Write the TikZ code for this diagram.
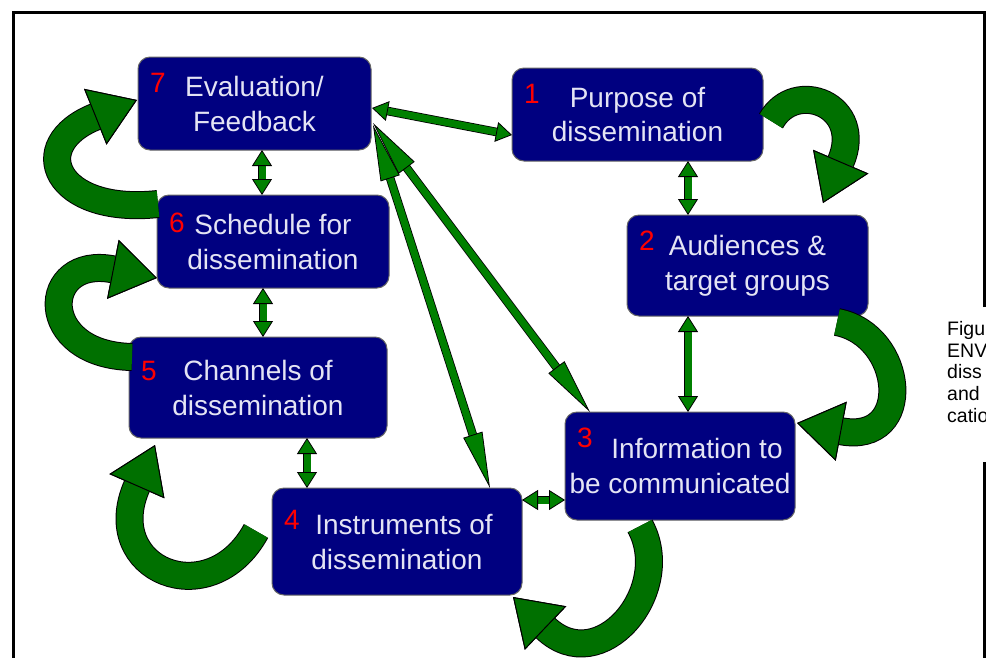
\documentclass[tikz,border=0pt]{standalone}
\usepackage{fontspec}
\setmainfont{Liberation Sans}
\usetikzlibrary{positioning,arrows.meta}

\definecolor{boxnavy}{HTML}{000080}
\definecolor{boxtext}{HTML}{E4E4F4}
\definecolor{linkgreen}{HTML}{008000}
\definecolor{turngreen}{HTML}{007000}

\tikzset{
    ltip/.tip={Triangle[width=20pt,length=16pt,line width=0.8pt,color=black,fill=linkgreen]},
    lltip/.tip={Triangle[width=20pt,length=56pt,line width=0.8pt,color=black,fill=linkgreen]},
    ttip/.tip={Triangle[width=60pt,length=45pt,line width=1pt,color=black,fill=turngreen]},
    stage/.style={draw=black!60, line width=1pt, fill=boxnavy, rounded corners=12pt, text=boxtext, align=center, outer sep=0pt, font=\fontsize{28}{35}\selectfont},
    num/.style={anchor=north west, xshift=12pt, yshift=-16pt, inner sep=0pt, text=red, font=\fontsize{28}{35}\selectfont},
    link/.style={draw=linkgreen, line width=7pt, arrows={ltip-ltip}, preaction={draw=black, line width=8.6pt, arrows=-, shorten <=12pt, shorten >=12pt}},
    long link/.style={draw=linkgreen, line width=7pt, arrows={lltip-lltip}, preaction={draw=black, line width=8.6pt, arrows=-, shorten <=48pt, shorten >=48pt}},
    turn/.style={draw=turngreen, line width=26pt, arrows={-ttip}, preaction={draw=black, line width=28pt, arrows={-ttip}}},
    frame/.style={draw=black, line width=3pt}
}

\begin{document}
\begin{tikzpicture}[x=1pt, y=1pt]
    \useasboundingbox (0,0) rectangle (986,-657);
    \draw[frame] (984,-307) -- (984,-12) -- (13.5,-12) -- (13.5,-660);
    \draw[frame] (984,-462) -- (984,-660);

    \node[stage, minimum width=233pt, minimum height=93pt, label={[num]north west:7}] (EV) at (254.5,-103.5) {Evaluation/\\Feedback};
    \node[stage, minimum width=251pt, minimum height=93pt, below right=11pt and 141pt of EV.north east, label={[num]north west:1}] (PU) {Purpose of\\dissemination};
    \node[stage, minimum width=241pt, minimum height=101pt, below right=54pt and 115pt of PU.south west, label={[num]north west:2}] (AU) {Audiences \&\\target groups};
    \node[stage, minimum width=232pt, minimum height=93pt, below right=45pt and 19pt of EV.south west, label={[num, yshift=-2pt]north west:6}] (SC) {Schedule for\\dissemination};
    \node[stage, minimum width=258pt, minimum height=101pt, below right=49pt and -28pt of SC.south west, label={[num, yshift=-8pt]north west:5}] (CH) {Channels of\\dissemination};
    \node[stage, minimum width=230pt, minimum height=108pt, below right=96pt and -62pt of AU.south west, label={[num]north west:3}] (INF) {\hspace*{34pt}Information to\\be communicated};
    \node[stage, minimum width=250pt, minimum height=107pt, below right=50pt and 143pt of CH.south west, label={[num, yshift=-6pt]north west:4}] (INS) {\hspace*{14pt}Instruments of\\dissemination};

    \node[anchor=north west, inner sep=0pt, align=left, font=\fontsize{19.5}{21.7}\selectfont] (CAP) at (947,-321) {Figur\\ENV\\diss\\and\\catio};

    \draw[link] ([shift={(1,-4.5)}]EV.east) -- ([yshift=-20.5pt]PU.west);
    \draw[link] ([xshift=7.5pt]EV.south) -- ([xshift=7.5pt]EV.south |- SC.north);
    \draw[link] ([xshift=-10pt]SC.south) -- ([xshift=-10pt]SC.south |- CH.north);
    \draw[link] ([xshift=49pt]CH.south) -- ([xshift=49pt]CH.south |- INS.north);
    \draw[link] ([xshift=50.5pt]PU.south) -- ([xshift=50.5pt]PU.south |- AU.north);
    \draw[link] ([xshift=-59.5pt]AU.south) -- ([xshift=-59.5pt]AU.south |- INF.north);
    \draw[link] ([yshift=41.5pt]INS.east) -- ([yshift=41.5pt]INS.east -| INF.west);
    \draw[long link] ([shift={(2,-19.5)}]EV.east) -- ([xshift=25pt]INF.north west);
    \draw[long link] ([shift={(2,-21.5)}]EV.east) -- ([xshift=-32pt]INS.north east);

    \draw[turn] ([shift={(8,-6.5)}]PU.east) .. controls +(24,43) and +(42,98) .. ([shift={(75.5,12)}]AU.north);
    \draw[turn] ([shift={(-31,-6)}]AU.south east) .. controls +(68,-13) and +(118,-22) .. ([shift={(2,-11)}]INF.north east);
    \draw[turn] ([shift={(75,-6)}]INF.south west) .. controls +(35,-64) and +(87,-83) .. ([shift={(-9,-2)}]INS.south east);
    \draw[turn] ([shift={(-16,10.5)}]INS.west) .. controls +(-46,-84) and +(-55,-125) .. ([shift={(26,-7)}]CH.south west);
    \draw[turn] ([shift={(3,-20)}]CH.north west) .. controls +(-97,2) and +(-117,23) .. ([shift={(0,10)}]SC.south west);
    \draw[turn] ([shift={(1,-9)}]SC.north west) .. controls +(-103,-11) and +(-112,-45) .. ([shift={(-1,3.5)}]EV.west);
\end{tikzpicture}
\end{document}
